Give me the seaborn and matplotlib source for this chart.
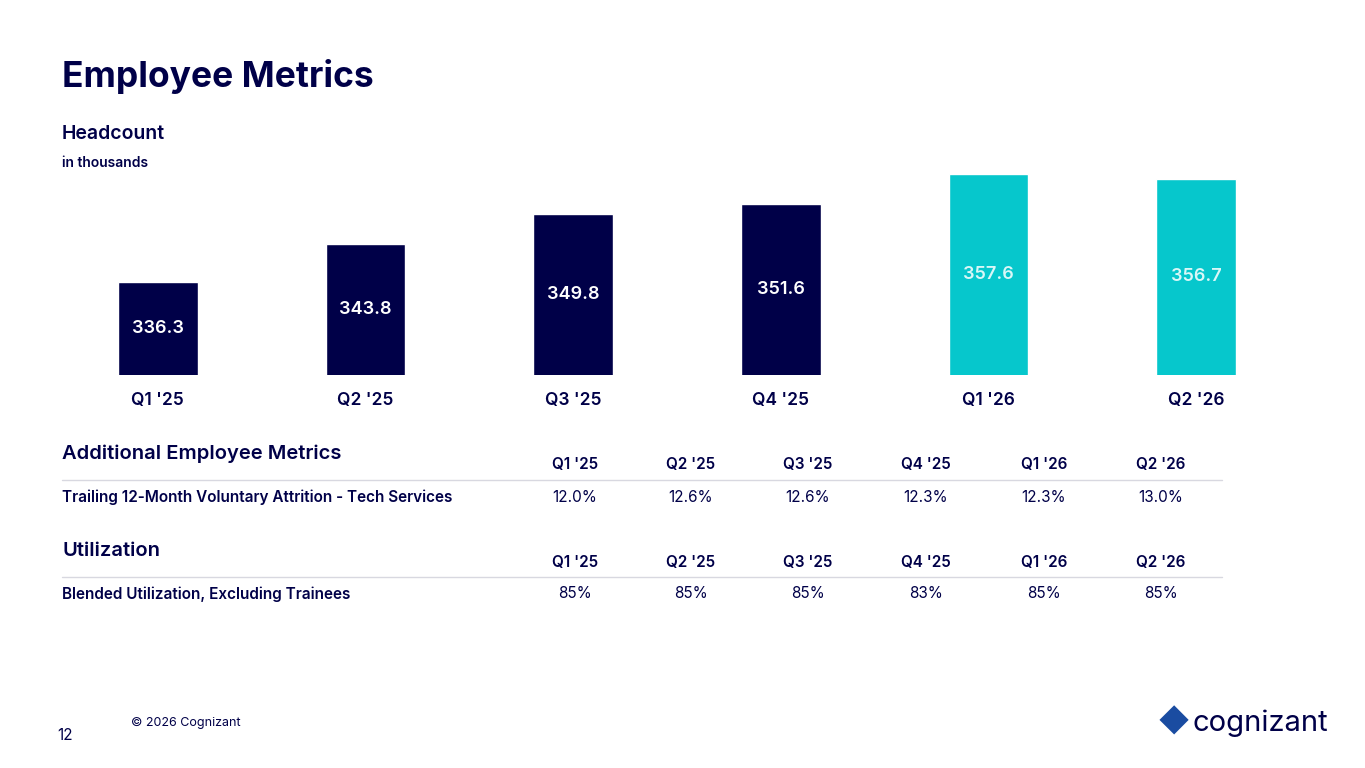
import matplotlib
matplotlib.use("Agg")
import matplotlib.pyplot as plt
import seaborn as sns
import pandas as pd

quarters = ["Q1 '25", "Q2 '25", "Q3 '25", "Q4 '25", "Q1 '26", "Q2 '26"]
headcount = [336.3, 343.8, 349.8, 351.6, 357.6, 356.7]
attrition = ["12.0%", "12.6%", "12.6%", "12.3%", "12.3%", "13.0%"]
utilization = ["85%", "85%", "85%", "83%", "85%", "85%"]

NAVY = "#000048"
CYAN = "#06C7CC"
bar_colors = [NAVY] * 4 + [CYAN] * 2

sns.set_theme(style="white")
plt.rcParams['font.family'] = ['Inter', 'DejaVu Sans']

W, H = 1365, 768
fig = plt.figure(figsize=(13.65, 7.68), dpi=100)

def fx(x): return x / W
def fy(y): return 1 - y / H

ax = fig.add_axes([fx(54), fy(375), 1246 / W, (375 - 174) / H])
df = pd.DataFrame({"q": quarters, "v": headcount})
sns.barplot(data=df, x="q", y="v", hue="q", palette=bar_colors, legend=False,
            width=0.385, saturation=1, ax=ax)
base = 318
ax.set_ylim(base, max(headcount))
ax.set_xlim(-0.5, 5.5)
ax.axis("off")
for i, v in enumerate(headcount):
    c = "white" if i < 4 else "#D9F7F7"
    ax.text(i, (base + v) / 2, f"{v:.1f}", ha="center", va="center",
            color=c, fontsize=13, fontweight="semibold")
    ax.text(i, base - (25 / 201) * (max(headcount) - base), quarters[i], ha="center",
            va="center", color=NAVY, fontsize=12.5, fontweight="semibold", clip_on=False)

fig.text(fx(62), fy(76), "Employee Metrics", fontsize=25.5, fontweight="bold", color=NAVY, va="center")
fig.text(fx(62), fy(134), "Headcount", fontsize=14, fontweight="semibold", color=NAVY, va="center")
fig.text(fx(62), fy(163), "in thousands", fontsize=10, fontweight="semibold", color=NAVY, va="center")

col_x = [575, 691, 808, 926, 1044, 1161]

def table(y_title, title, label, values):
    fig.text(fx(62), fy(y_title), title, fontsize=14.5, fontweight="semibold", color=NAVY, va="center")
    for x, q in zip(col_x, quarters):
        fig.text(fx(x), fy(y_title + 11), q, fontsize=11, fontweight="semibold", color=NAVY,
                 ha="center", va="center")
    fig.add_artist(plt.Line2D([fx(62), fx(1222)], [fy(y_title + 26)] * 2, color="#D8D8E0", lw=1))
    fig.text(fx(62), fy(y_title + 43), label, fontsize=11, fontweight="semibold", color=NAVY, va="center")
    for x, v in zip(col_x, values):
        fig.text(fx(x), fy(y_title + 43), v, fontsize=11, color=NAVY, ha="center", va="center")

table(454, "Additional Employee Metrics", "Trailing 12-Month Voluntary Attrition - Tech Services", attrition)
table(551, "Utilization", "Blended Utilization, Excluding Trainees", utilization)

fig.text(fx(131), fy(723), "© 2026 Cognizant", fontsize=9, color=NAVY, va="center")
fig.text(fx(57), fy(735), "12", fontsize=11, color=NAVY, va="center")
fig.text(fx(1192), fy(723), "cognizant", fontsize=21, color=NAVY, va="center")
fig.text(fx(1158), fy(723), "◆", fontsize=22, color="#1A4CA1", va="center")

fig.savefig("out.png", dpi=100)
